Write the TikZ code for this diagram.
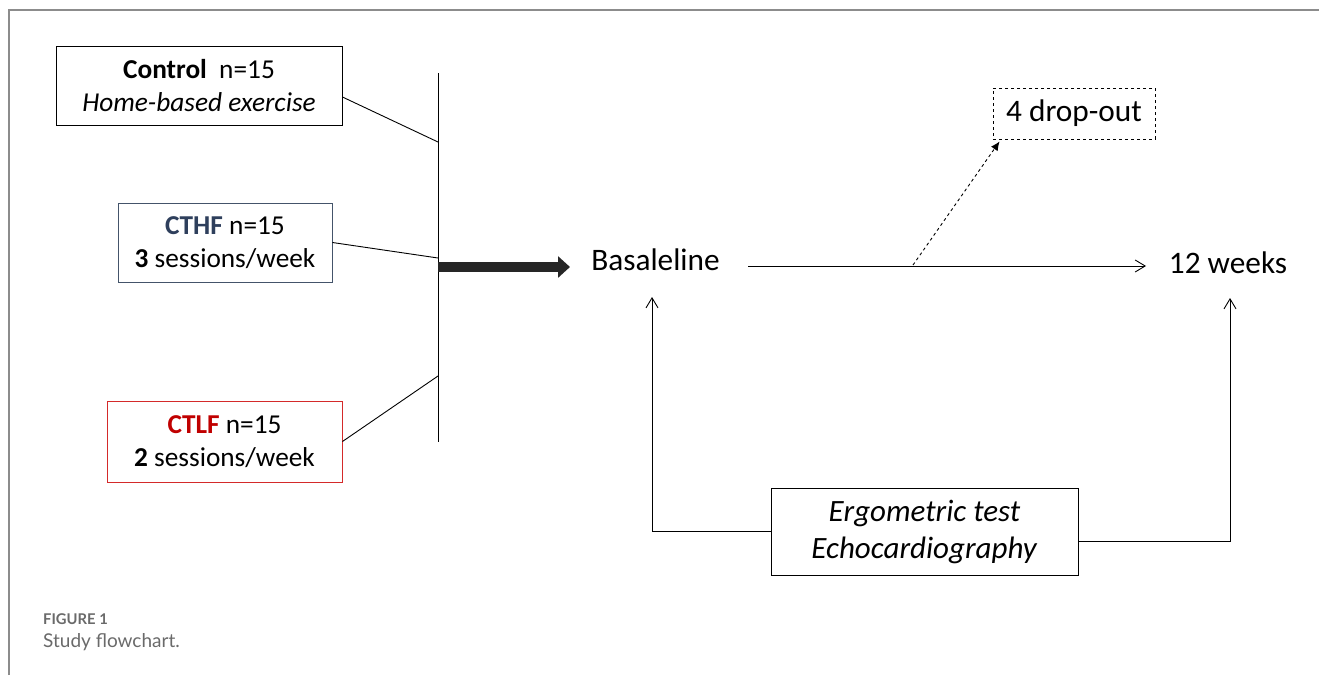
\documentclass[tikz,border=0pt]{standalone}
\usepackage{fontspec}
\setmainfont{Carlito}
\newfontfamily\capfont{Lato}
\usetikzlibrary{arrows.meta}
\definecolor{frame}{HTML}{8C8C8C}
\definecolor{bluegray}{HTML}{44546A}
\definecolor{cthfc}{HTML}{2E3F5C}
\definecolor{redb}{HTML}{D42A2A}
\definecolor{ctlfc}{HTML}{C00000}
\definecolor{darkarrow}{HTML}{262626}
\definecolor{capgray}{HTML}{6A6A6A}
\tikzset{
  box/.style={draw=black, line width=0.9pt, align=center, inner sep=0pt,
    font=\fontsize{27.3}{33}\selectfont},
  conn/.style={line width=0.9pt},
  lbl/.style={inner sep=0pt, font=\fontsize{31.3}{36}\selectfont},
  openarrow/.style={conn, -{Straight Barb[length=10pt,width=12pt]}},
}
\begin{document}
\begin{tikzpicture}[x=1pt,y=-1pt]
\useasboundingbox (0,0) rectangle (1319,675);
% frame
\draw[frame, line width=1.3pt] (9,675) -- (9,10) -- (1319,10);
% boxes
\node[box, minimum width=286pt, minimum height=79pt] (ctrl) at (199,85.5)
  {\textbf{Control}\ \ n=15\\ \textit{Home-based exercise}};
\node[box, draw=bluegray, minimum width=214pt, minimum height=79pt] (cthf) at (225,242.5)
  {\textcolor{cthfc}{\textbf{CTHF}}\ n=15\\ \textbf{3} sessions/week};
\node[box, draw=redb, minimum width=235pt, minimum height=81pt] (ctlf) at (224.5,441.5)
  {\textcolor{ctlfc}{\textbf{CTLF}}\ n=15\\ \textbf{2} sessions/week};
% vertical bar
\coordinate (vt) at (438,73);
\coordinate (vb) at (438,442);
\coordinate (v1) at (438,142);
\coordinate (v2) at (438,258);
\coordinate (v3) at (438,376);
\coordinate (va) at (438,267);
\draw[conn] (vt) -- (vb);
\draw[conn] ([yshift=-11.5pt]ctrl.east) -- (v1);
\draw[conn] (cthf.east) -- (v2);
\draw[conn] (ctlf.east) -- (v3);
% labels
\node[lbl] (basal) at (655.5,260) {Basaleline};
\node[lbl] (weeks) at (1228,263) {12 weeks};
\coordinate (ae) at (570,267);
\draw[darkarrow, line width=10pt, -{Triangle[length=12pt,width=21pt]}] (va) -- (ae);
% main timeline
\coordinate (h1) at (748,266);
\coordinate (h2) at (1146,266);
\draw[openarrow] (h1) -- (h2);
% drop-out
\node[box, dashed, minimum width=162pt, minimum height=51pt, font=\fontsize{31.3}{36}\selectfont] (drop) at (1074,113.5) {4 drop-out};
\coordinate (d0) at (913,265);
\draw[conn, dashed, -{Latex[length=9pt,width=8pt]}] (d0) -- ([xshift=7pt,yshift=-2pt]drop.south west);
% tests box
\node[box, minimum width=307pt, minimum height=87pt, font=\fontsize{31}{37}\selectfont] (ergo) at (924.5,531.5)
  {\textit{Ergometric test}\\ \textit{Echocardiography}};
\coordinate (b1) at (652,297);
\coordinate (w1) at (1230,298);
\draw[openarrow] (ergo.west) -| (b1);
\draw[openarrow] ([yshift=-9.5pt]ergo.east) -| (w1);
% caption
\node[anchor=west, inner sep=0pt, text=capgray, font=\capfont\bfseries\fontsize{14.8}{17}\selectfont] (fig) at (43,619) {FIGURE 1};
\node[anchor=west, inner sep=0pt, text=capgray, font=\capfont\fontsize{19}{23}\selectfont] (capt) at (43,642) {Study flowchart.};
\end{tikzpicture}
\end{document}
